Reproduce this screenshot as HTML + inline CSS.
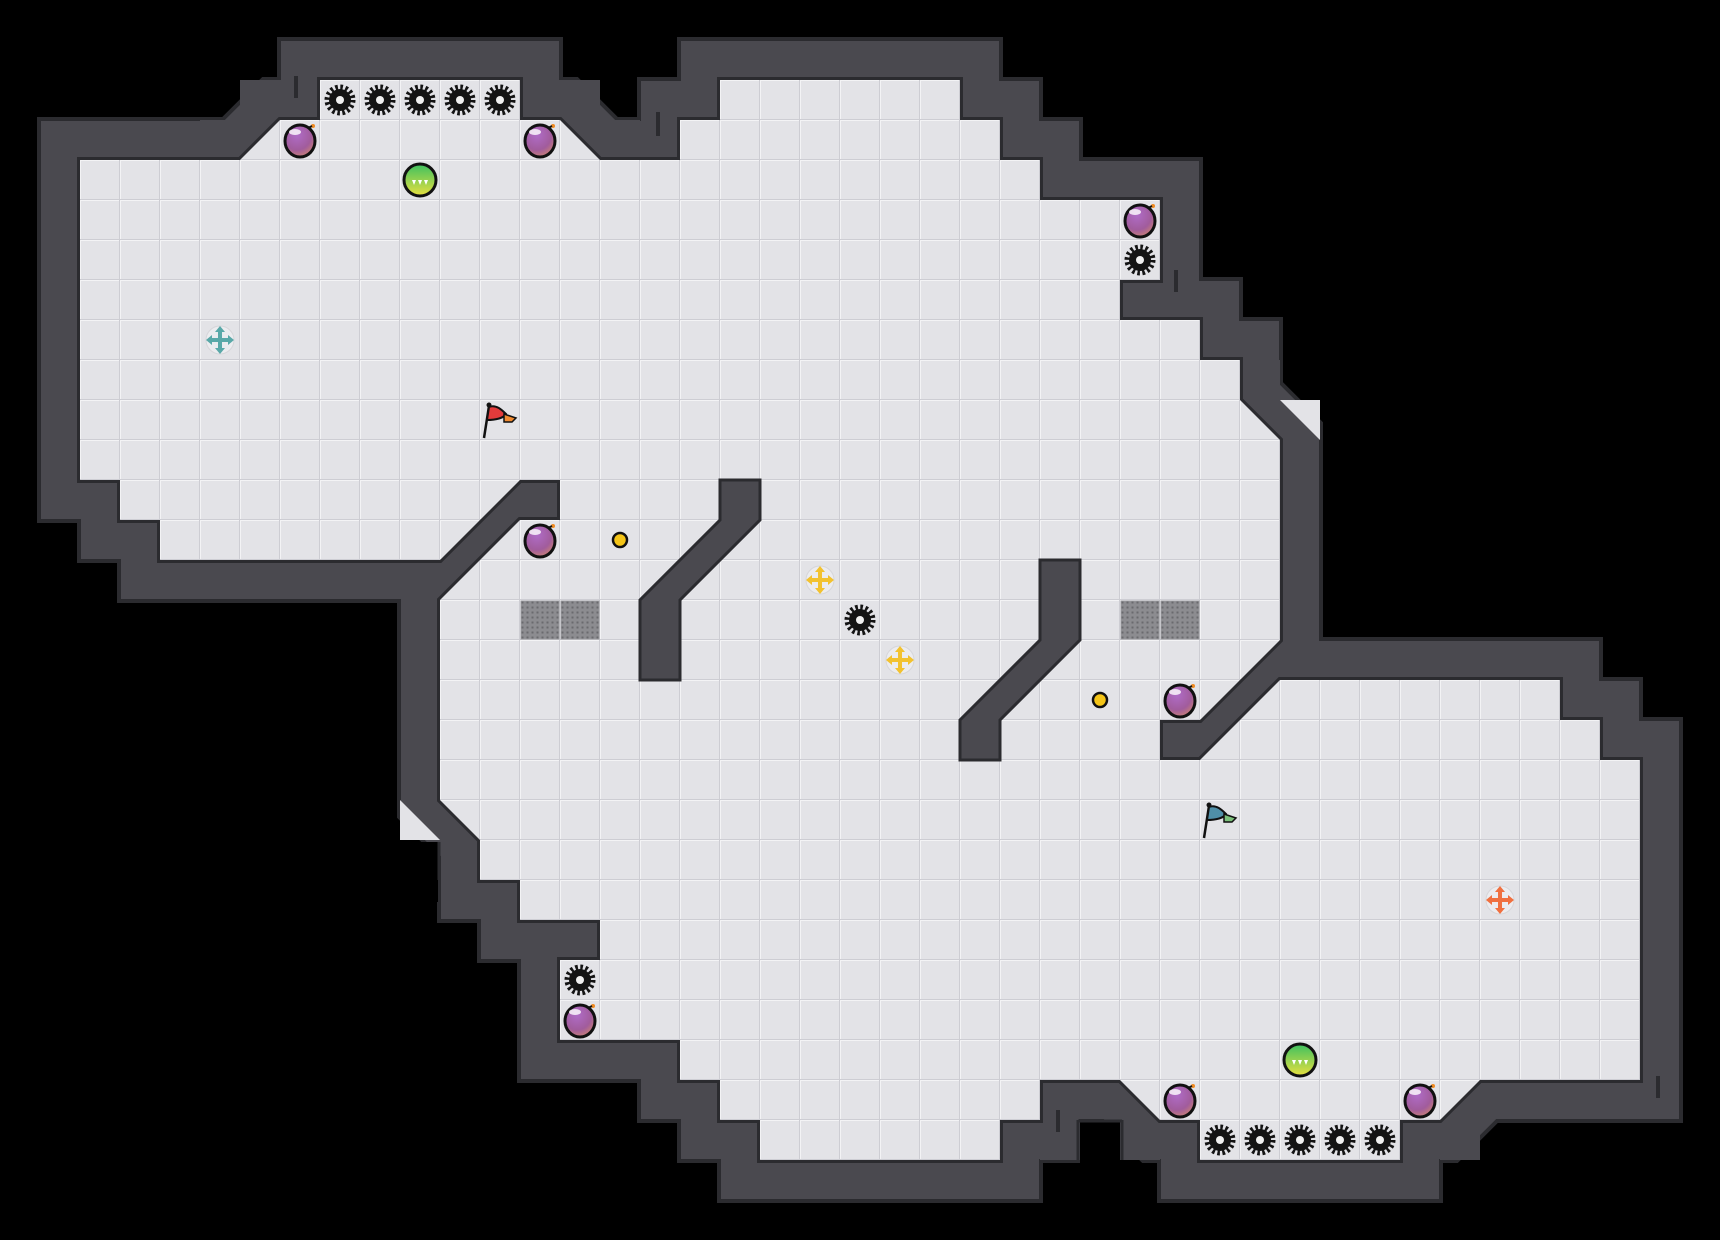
<!DOCTYPE html>
<html><head><meta charset="utf-8">
<style>
html,body{margin:0;padding:0;background:#000;}
svg{display:block;}
</style></head>
<body>
<svg width="1720" height="1240" viewBox="0 0 1720 1240" xmlns="http://www.w3.org/2000/svg">
<defs>
<pattern id="tile" patternUnits="userSpaceOnUse" x="0" y="0" width="40" height="40">
<rect width="40" height="40" fill="#e3e3e7"/>
<path d="M0 0.5H40M0.5 0V40" stroke="#f3f3f5" stroke-width="1"/>
<path d="M0 39.5H40M39.5 0V40" stroke="#cdcdd3" stroke-width="1"/>
</pattern>
<pattern id="grate" patternUnits="userSpaceOnUse" x="0" y="0" width="5" height="5">
<rect width="5" height="5" fill="#8c8c90"/>
<rect x="1.5" y="1.5" width="2" height="2" fill="#6a6a6e"/>
</pattern>
<radialGradient id="purp" cx="0.4" cy="0.3" r="0.8">
<stop offset="0" stop-color="#b06cc8"/><stop offset="0.6" stop-color="#a15c9c"/><stop offset="1" stop-color="#d58a6a"/>
</radialGradient>
<linearGradient id="grn" x1="0" y1="0" x2="0" y2="1">
<stop offset="0" stop-color="#3cc060"/><stop offset="1" stop-color="#e8e040"/>
</linearGradient>
<symbol id="spike" viewBox="-20 -20 40 40" overflow="visible">
<circle r="11" fill="#141414"/>
<circle r="13" fill="none" stroke="#141414" stroke-width="5" stroke-dasharray="2.6 2.5"/>
<circle r="4" fill="#f0f0f0"/>
</symbol>
<symbol id="orb" viewBox="-20 -20 40 40" overflow="visible">
<ellipse cx="0" cy="1" rx="15" ry="16" fill="url(#purp)" stroke="#111" stroke-width="3"/>
<ellipse cx="-5" cy="-8" rx="6" ry="3" fill="#fff" opacity="0.8"/>
<circle cx="13" cy="-14" r="2" fill="#f08a20"/>
<path d="M8 -12 L12 -14" stroke="#111" stroke-width="2"/>
</symbol>
<symbol id="gorb" viewBox="-20 -20 40 40" overflow="visible">
<circle r="16" fill="url(#grn)" stroke="#111" stroke-width="3"/>
<path d="M-8 0 L-4 0 L-6 5Z M-2 0 L2 0 L0 5Z M4 0 L8 0 L6 5Z" fill="#fff"/>
</symbol>
</defs>

<g id="outline">
<path id="fl" d="M80 160 L240 160 L280 120 L320 120 L320 80 L520 80 L520 120 L560 120 L600 160 L680 160 L680 120 L720 120 L720 80 L960 80 L960 120 L1000 120 L1000 160 L1040 160 L1040 200 L1160 200 L1160 280 L1120 280 L1120 320 L1200 320 L1200 360 L1240 360 L1240 400 L1280 440 L1280 640 L1200 720 L1160 720 L1160 760 L1200 760 L1280 680 L1560 680 L1560 720 L1600 720 L1600 760 L1640 760 L1640 1080 L1480 1080 L1440 1120 L1400 1120 L1400 1160 L1200 1160 L1200 1120 L1160 1120 L1120 1080 L1040 1080 L1040 1120 L1000 1120 L1000 1160 L760 1160 L760 1120 L720 1120 L720 1080 L680 1080 L680 1040 L560 1040 L560 960 L600 960 L600 920 L520 920 L520 880 L480 880 L480 840 L440 800 L440 600 L520 520 L560 520 L560 480 L520 480 L440 560 L160 560 L160 520 L120 520 L120 480 L80 480 Z"/>
</g>
<use href="#fl" fill="none" stroke="#2b2b2f" stroke-width="86" stroke-linejoin="miter" stroke-miterlimit="10"/>
<use href="#fl" fill="none" stroke="#4a494f" stroke-width="78" stroke-linejoin="miter" stroke-miterlimit="10"/>
<!-- square-off corners near diagonals -->
<g fill="#4a494f">
<rect x="200" y="120" width="40" height="40"/>
<rect x="240" y="80" width="40" height="40"/>
<rect x="280" y="80" width="40" height="40"/>
<rect x="520" y="80" width="40" height="40"/>
<rect x="560" y="80" width="40" height="40"/>
<rect x="600" y="120" width="40" height="40"/>
<rect x="1240" y="360" width="40" height="40"/>
<rect x="1440" y="1120" width="40" height="40"/>
<rect x="1120" y="1120" width="40" height="40"/>
<rect x="1040" y="1120" width="40" height="40"/>
</g>
<rect x="1080" y="1122" width="40" height="60" fill="#000"/>
<path d="M1078 1120V1160M1122 1120V1160M1078 1121H1122" stroke="#2b2b2f" stroke-width="3"/>
<rect x="340" y="842" width="98" height="60" fill="#000"/>
<path d="M439 842V880" stroke="#2b2b2f" stroke-width="3"/>
<!-- light cut triangles -->
<polygon points="1280,400 1320,400 1320,440" fill="#e3e3e7"/>
<polygon points="400,800 400,840 440,840" fill="#e3e3e7"/>
<use href="#fl" fill="url(#tile)" stroke="#2b2b2f" stroke-width="6" stroke-linejoin="miter"/>
<use href="#fl" fill="url(#tile)" stroke="none"/>

<g stroke="#2b2b2f" stroke-width="4">
<path d="M296 76V98M658 112V136M1176 270V292M1058 1110V1132M1658 1076V1098"/>
</g>

<polygon points="720,480 760,480 760,520 680,600 680,680 640,680 640,600 720,520" fill="#4a494f" stroke="#2b2b2f" stroke-width="3"/>
<polygon points="1040,560 1080,560 1080,640 1000,720 1000,760 960,760 960,720 1040,640" fill="#4a494f" stroke="#2b2b2f" stroke-width="3"/>

<rect x="521" y="601" width="38" height="38" fill="url(#grate)" stroke="#9a9a9e"/>
<rect x="561" y="601" width="38" height="38" fill="url(#grate)" stroke="#9a9a9e"/>
<rect x="1121" y="601" width="38" height="38" fill="url(#grate)" stroke="#9a9a9e"/>
<rect x="1161" y="601" width="38" height="38" fill="url(#grate)" stroke="#9a9a9e"/>

<g>
<use href="#spike" x="320" y="80" width="40" height="40"/>
<use href="#spike" x="360" y="80" width="40" height="40"/>
<use href="#spike" x="400" y="80" width="40" height="40"/>
<use href="#spike" x="440" y="80" width="40" height="40"/>
<use href="#spike" x="480" y="80" width="40" height="40"/>
<use href="#spike" x="1120" y="240" width="40" height="40"/>
<use href="#spike" x="840" y="600" width="40" height="40"/>
<use href="#spike" x="560" y="960" width="40" height="40"/>
<use href="#spike" x="1200" y="1120" width="40" height="40"/>
<use href="#spike" x="1240" y="1120" width="40" height="40"/>
<use href="#spike" x="1280" y="1120" width="40" height="40"/>
<use href="#spike" x="1320" y="1120" width="40" height="40"/>
<use href="#spike" x="1360" y="1120" width="40" height="40"/>
</g>

<use href="#orb" x="280" y="120" width="40" height="40"/>
<use href="#orb" x="520" y="120" width="40" height="40"/>
<use href="#orb" x="1120" y="200" width="40" height="40"/>
<use href="#orb" x="520" y="520" width="40" height="40"/>
<use href="#orb" x="1160" y="680" width="40" height="40"/>
<use href="#orb" x="560" y="1000" width="40" height="40"/>
<use href="#orb" x="1160" y="1080" width="40" height="40"/>
<use href="#orb" x="1400" y="1080" width="40" height="40"/>
<use href="#gorb" x="400" y="160" width="40" height="40"/>
<use href="#gorb" x="1280" y="1040" width="40" height="40"/>

<circle cx="620" cy="540" r="7" fill="#f5c518" stroke="#111" stroke-width="2.5"/>
<circle cx="1100" cy="700" r="7" fill="#f5c518" stroke="#111" stroke-width="2.5"/>

<g transform="translate(220,340)">
<circle r="14" fill="#ececef" stroke="#d6d6da"/>
<path d="M0 -14L5 -8H2V-2H8V-5L14 0L8 5V2H2V8H5L0 14L-5 8H-2V2H-8V5L-14 0L-8 -5V-2H-2V-8H-5Z" fill="#5aa8a8"/>
</g>
<g transform="translate(820,580)">
<circle r="14" fill="#ececef" stroke="#d6d6da"/>
<path d="M0 -14L5 -8H2V-2H8V-5L14 0L8 5V2H2V8H5L0 14L-5 8H-2V2H-8V5L-14 0L-8 -5V-2H-2V-8H-5Z" fill="#f2c230"/>
</g>
<g transform="translate(900,660)">
<circle r="14" fill="#ececef" stroke="#d6d6da"/>
<path d="M0 -14L5 -8H2V-2H8V-5L14 0L8 5V2H2V8H5L0 14L-5 8H-2V2H-8V5L-14 0L-8 -5V-2H-2V-8H-5Z" fill="#f2c230"/>
</g>
<g transform="translate(1500,900)">
<circle r="14" fill="#ececef" stroke="#d6d6da"/>
<path d="M0 -14L5 -8H2V-2H8V-5L14 0L8 5V2H2V8H5L0 14L-5 8H-2V2H-8V5L-14 0L-8 -5V-2H-2V-8H-5Z" fill="#f07040"/>
</g>

<g transform="translate(500,420)">
<path d="M-16 18 L-11 -14" stroke="#111" stroke-width="2.5"/>
<circle cx="-11" cy="-15" r="2.5" fill="#111"/>
<path d="M-11 -13 C-4 -16 2 -10 6 -6 C4 -2 -4 0 -13 0 Z" fill="#e23b3b" stroke="#111" stroke-width="2"/>
<path d="M4 -6 L16 -2 L12 2 L4 2 Z" fill="#f08a30" stroke="#111" stroke-width="1.5"/>
</g>
<g transform="translate(1220,820)">
<path d="M-16 18 L-11 -14" stroke="#111" stroke-width="2.5"/>
<circle cx="-11" cy="-15" r="2.5" fill="#111"/>
<path d="M-11 -13 C-4 -16 2 -10 6 -6 C4 -2 -4 0 -13 0 Z" fill="#4f8fa8" stroke="#111" stroke-width="2"/>
<path d="M4 -6 L16 -2 L12 2 L4 2 Z" fill="#7bc07a" stroke="#111" stroke-width="1.5"/>
</g>
</svg>
</body></html>
